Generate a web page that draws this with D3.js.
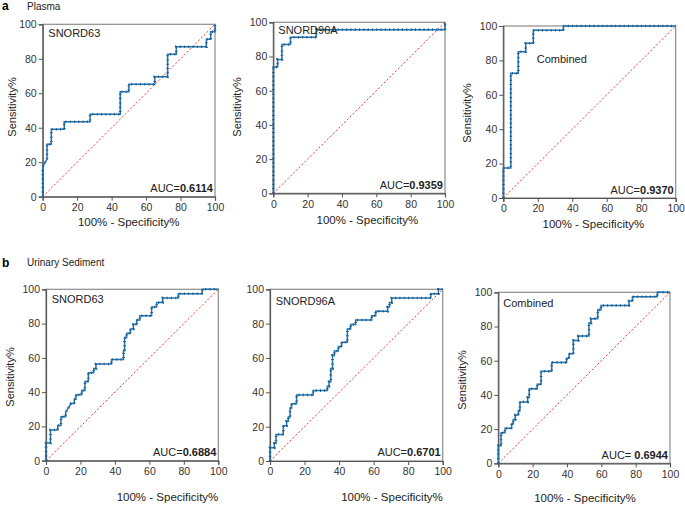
<!DOCTYPE html>
<html>
<head>
<meta charset="utf-8">
<script src="https://cdn.jsdelivr.net/npm/d3@7"></script>
<style>
  body { margin: 0; background: #fff; }
  text { font-family: "Liberation Sans", Arial, sans-serif; }
</style>
</head>
<body>
<script>

// ROC points (100% - specificity, sensitivity)
var plasma63Fpr = [0, 0, 2.5, 2.5, 5, 5, 12.5, 12.5, 27.5, 27.5, 45, 45, 50, 50, 65, 65, 72.5, 72.5, 77.5, 77.5, 95, 95, 97.5, 97.5, 100, 100];
var plasma63Tpr = [0, 17.4, 21.7, 30.4, 30.4, 39.1, 39.1, 43.5, 43.5, 47.8, 47.8, 60.9, 60.9, 65.2, 65.2, 69.6, 69.6, 82.6, 82.6, 87, 87, 91.3, 91.3, 95.7, 95.7, 100];

var plasma96Fpr = [0, 0, 2.5, 2.5, 5, 5, 10, 10, 25, 25, 100, 100];
var plasma96Tpr = [0, 73.9, 73.9, 78.3, 78.3, 87, 87, 91.3, 91.3, 95.7, 95.7, 100];

var plasmaCombFpr = [0, 0, 4.35, 4.35, 8.7, 8.7, 13, 13, 17.4, 17.4, 34.8, 34.8, 100];
var plasmaCombTpr = [0, 17.5, 17.5, 72.5, 72.5, 85, 85, 90, 90, 97.5, 97.5, 100, 100];

var urine63Fpr = [0, 0, 2.6, 2.6, 6.8, 6.8, 8.7, 8.7, 11.4, 11.4, 13, 14.5, 16.4, 16.4, 17.4, 17.4, 20.7, 20.7, 22.6, 22.6, 24.6, 24.6, 27.7, 27.7, 29, 29, 38, 38, 45, 45, 45.6, 45.6, 46.8, 46.8, 49, 49, 50.7, 50.7, 52.6, 52.6, 54.5, 54.5, 61.3, 61.3, 64.2, 64.2, 67.7, 67.7, 76.8, 76.8, 90.7, 90.7, 100];
var urine63Tpr = [0, 10.3, 10.3, 17.9, 17.9, 20.5, 20.5, 25.6, 25.6, 28.2, 30.8, 33.3, 33.3, 35.9, 35.9, 38.5, 38.5, 41, 41, 46.2, 46.2, 51.3, 51.3, 53.8, 53.8, 56.4, 56.4, 59, 59, 64.1, 64.1, 71.8, 71.8, 74.4, 74.4, 76.9, 76.9, 79.5, 79.5, 82.1, 82.1, 84.6, 84.6, 89.7, 89.7, 92.3, 92.3, 94.9, 94.9, 97.4, 97.4, 100, 100];

var urine96Fpr = [0, 0, 2.5, 2.5, 3.5, 3.5, 7.7, 7.7, 9.6, 9.6, 10.6, 10.6, 11.6, 11.6, 12.5, 12.5, 15.4, 15.4, 25, 25, 33.2, 33.2, 34.2, 34.2, 35.2, 35.2, 36.2, 36.2, 37.3, 37.3, 39.6, 39.6, 41.5, 41.5, 44.8, 44.8, 46.7, 46.7, 49.6, 49.6, 58.9, 58.9, 61.2, 61.2, 68.1, 68.1, 69.2, 69.2, 70.5, 70.5, 93.1, 93.1, 97.5, 97.5, 100];
var urine96Tpr = [0, 7.7, 7.7, 10.3, 10.3, 15.4, 15.4, 20.5, 20.5, 23.1, 23.1, 25.6, 25.6, 30.8, 30.8, 33.3, 33.3, 38.5, 38.5, 41, 41, 43.6, 43.6, 46.2, 46.2, 53.8, 53.8, 61.5, 61.5, 64.1, 64.1, 66.7, 66.7, 69.2, 69.2, 76.9, 76.9, 79.5, 79.5, 82.1, 82.1, 84.6, 84.6, 87.2, 87.2, 89.7, 89.7, 92.3, 92.3, 94.9, 94.9, 97.4, 97.4, 100, 100];

var urineCombFpr = [0, 0, 1.6, 1.6, 3.9, 3.9, 7.8, 7.8, 8.7, 8.7, 9.9, 9.9, 11.7, 11.7, 12.6, 12.6, 17.1, 17.1, 18, 18, 22.7, 22.7, 24.9, 24.9, 31.1, 31.1, 39.8, 39.8, 41.2, 41.2, 43.7, 43.7, 46.6, 46.6, 52.8, 52.8, 54, 54, 57.9, 57.9, 59.8, 59.8, 76.1, 76.1, 78.1, 78.1, 92.6, 92.6, 100];
var urineCombTpr = [0, 10.3, 10.3, 17.9, 17.9, 20.5, 20.5, 23.1, 23.1, 25.6, 25.6, 28.2, 28.2, 30.8, 30.8, 35.9, 35.9, 38.5, 38.5, 43.6, 43.6, 46.2, 46.2, 53.8, 53.8, 59, 59, 61.5, 61.5, 64.1, 64.1, 71.8, 71.8, 74.4, 74.4, 82.1, 82.1, 84.6, 84.6, 89.7, 89.7, 92.3, 92.3, 94.9, 94.9, 97.4, 97.4, 100, 100];

var markerNames = ["SNORD63", "SNORD96A", "Combined", "SNORD63", "SNORD96A", "Combined"];
var aucValues = ["0.6114", "0.9359", "0.9370", "0.6884", "0.6701", "0.6944"];
var axisTicks = [0, 20, 40, 60, 80, 100];

var rocFpr = [plasma63Fpr, plasma96Fpr, plasmaCombFpr, urine63Fpr, urine96Fpr, urineCombFpr];
var rocTpr = [plasma63Tpr, plasma96Tpr, plasmaCombTpr, urine63Tpr, urine96Tpr, urineCombTpr];

// panel boxes and label spots (pixels); ytX is absolute, null = no y title
var layout = [
  {x0: 42.7, x1: 215, y0: 24.3, y1: 196.7, nameX: 5.6, nameY: 13, xtX: 86, xtY: 226, ytX: 16, ytY: 107, aucSep: "="},
  {x0: 273.3, x1: 445, y0: 22.3, y1: 193.3, nameX: 5, nameY: 12, xtX: 94, xtY: 224, ytX: 241, ytY: 107, aucSep: "="},
  {x0: 503.3, x1: 675.7, y0: 26, y1: 198, nameX: 33.4, nameY: 36.7, xtX: 90, xtY: 228, ytX: 471, ytY: 113, aucSep: "="},
  {x0: 46, x1: 218.3, y0: 289.3, y1: 460.7, nameX: 5.7, nameY: 14, xtX: 121.5, xtY: 501, ytX: 14, ytY: 377, aucSep: "="},
  {x0: 270, x1: 442.7, y0: 289.3, y1: 461, nameX: 5.7, nameY: 16, xtX: 122, xtY: 501, ytX: null, ytY: 0, aucSep: "="},
  {x0: 498.3, x1: 670, y0: 292.3, y1: 463.3, nameX: 5, nameY: 14.4, xtX: 86.7, xtY: 502, ytX: 466, ytY: 380, aucSep: "= "}
];

var blue = "#2473ad";

var svg = d3.select("body")
  .append("svg")
    .attr("width", 685)
    .attr("height", 506);

svg.append("rect").attr("width", 685).attr("height", 506).attr("fill", "#fff");

// section headers
svg.append("text").attr("x", 2).attr("y", 10).attr("font-size", "12px").attr("font-weight", "bold").text("a");
svg.append("text").attr("x", 27).attr("y", 10).attr("font-size", "10px").attr("fill", "#222").text("Plasma");
svg.append("text").attr("x", 2).attr("y", 267).attr("font-size", "12px").attr("font-weight", "bold").text("b");
svg.append("text").attr("x", 27).attr("y", 266).attr("font-size", "10px").attr("fill", "#222").text("Urinary Sediment");

layout.forEach(function (p, i) {
  var w = p.x1 - p.x0, h = p.y1 - p.y0;
  var g = svg.append("g").attr("transform", "translate(" + p.x0 + "," + p.y0 + ")");

  var x = d3.scaleLinear().domain([0, 100]).range([0, w]);
  var y = d3.scaleLinear().domain([0, 100]).range([h, 0]);

  // frame
  g.append("rect")
    .attr("width", w).attr("height", h)
    .attr("fill", "none").attr("stroke", "#8c8c8c").attr("stroke-width", 1.2);

  var xa = g.append("g")
    .attr("transform", "translate(0," + h + ")")
    .call(d3.axisBottom(x).tickValues(axisTicks).tickSize(4).tickPadding(3));
  var ya = g.append("g")
    .call(d3.axisLeft(y).tickValues(axisTicks).tickSize(4).tickPadding(2));
  [xa, ya].forEach(function (a) {
    a.select(".domain").attr("stroke", "#555").attr("stroke-width", 1.2);
    a.selectAll(".tick line").attr("stroke", "#555");
    a.selectAll("text").attr("font-size", "10.5px").attr("fill", "#333")
      .attr("font-family", "Liberation Sans, Arial, sans-serif");
  });

  // reference diagonal
  g.append("line")
    .attr("x1", x(0)).attr("y1", y(0)).attr("x2", x(100)).attr("y2", y(100))
    .attr("stroke", "#e8392f").attr("stroke-width", 1).attr("stroke-dasharray", "2,2");

  // ROC curve
  var pts = d3.zip(rocFpr[i], rocTpr[i]);
  var line = d3.line().x(function (d) { return x(d[0]); }).y(function (d) { return y(d[1]); });
  g.append("path").datum(pts)
    .attr("d", line).attr("fill", "none").attr("stroke", blue).attr("stroke-width", 1.5);
  g.append("path").datum(pts)
    .attr("d", line).attr("fill", "none").attr("stroke", "#1b5d8f")
    .attr("stroke-width", 2.6).attr("stroke-dasharray", "1,3.3");

  g.append("text")
    .attr("x", p.nameX).attr("y", p.nameY)
    .attr("font-size", "11px").attr("fill", "#222")
    .text(markerNames[i]);

  var auc = g.append("text")
    .attr("x", w - 2).attr("y", h - 4.5)
    .attr("text-anchor", "end").attr("font-size", "11px").attr("fill", "#222");
  auc.append("tspan").text("AUC" + p.aucSep);
  auc.append("tspan").attr("font-weight", "bold").text(aucValues[i]);

  svg.append("text")
    .attr("x", p.x0 + p.xtX).attr("y", p.xtY)
    .attr("text-anchor", "middle").attr("font-size", "11.5px").attr("fill", "#222")
    .text("100% - Specificity%");

  if (p.ytX !== null) {
    svg.append("text")
      .attr("transform", "translate(" + p.ytX + "," + p.ytY + ") rotate(-90)")
      .attr("text-anchor", "middle").attr("font-size", "11px").attr("fill", "#222")
      .text("Sensitivity%");
  }
});

</script>
</body>
</html>
